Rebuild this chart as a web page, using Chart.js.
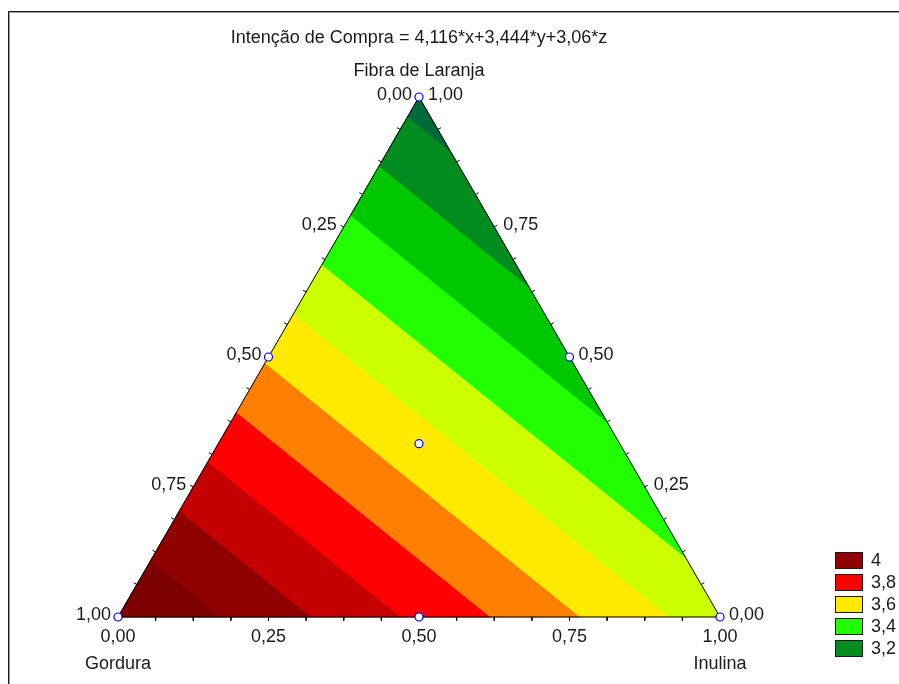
<!DOCTYPE html>
<html>
<head>
<meta charset="utf-8">
<title>Intenção de Compra</title>
<script src="https://cdn.jsdelivr.net/npm/chart.js@4.4.1/dist/chart.umd.min.js"></script>
<style>
  html, body { margin: 0; padding: 0; background: #fff; overflow: hidden; }
  canvas { display: block; }
</style>
</head>
<body>
<canvas id="c" width="899" height="684"></canvas>
<script>
// Linear mixture model: Intenção de Compra = 4,116*x + 3,444*y + 3,06*z
const coefGordura = 4.116;   // x
const coefInulina = 3.444;   // y
const coefFibra = 3.06;      // z
const titleText = 'Intenção de Compra = 4,116*x+3,444*y+3,06*z';
const componentNames = ['Gordura', 'Inulina', 'Fibra de Laranja'];

// contour levels and the fill of each band (below first level ... above last level)
const contourLevels = [3.1, 3.2, 3.3, 3.4, 3.5, 3.6, 3.7, 3.8, 3.9, 4.0];
const bandColors = ['#00693a', '#008c1e', '#00c800', '#22ff00', '#ccff00',
                    '#ffea00', '#ff8000', '#ff0000', '#c40000', '#900000', '#7d0000'];

// axis labels along each side of the triangle
const axisTicks = [0, 0.25, 0.5, 0.75, 1];
const axisTickLabels = ['0,00', '0,25', '0,50', '0,75', '1,00'];
const minorTickStep = 1 / 16;

// design points: [gordura, inulina, fibra]
const designPoints = [
  [1, 0, 0], [0, 1, 0], [0, 0, 1],
  [0.5, 0.5, 0], [0.5, 0, 0.5], [0, 0.5, 0.5],
  [1 / 3, 1 / 3, 1 / 3]
];

// legend
const legendLabels = ['4', '3,8', '3,6', '3,4', '3,2'];
const legendColors = ['#900000', '#ff0000', '#ffea00', '#22ff00', '#008c1e'];

const H = Math.sqrt(3) / 2;
function toXY(t) { return { x: t[1] + 0.5 * t[2], y: t[2] * H }; }
function response(t) { return coefGordura * t[0] + coefInulina * t[1] + coefFibra * t[2]; }

// keep the part of a ternary polygon above (or below) a response level
function clipPoly(poly, level, keepAbove) {
  const out = [];
  for (let i = 0; i < poly.length; i++) {
    const a = poly[i], b = poly[(i + 1) % poly.length];
    const va = response(a) - level, vb = response(b) - level;
    const ina = keepAbove ? va >= 0 : va <= 0;
    const inb = keepAbove ? vb >= 0 : vb <= 0;
    if (ina) out.push(a);
    if (ina !== inb) {
      const s = va / (va - vb);
      out.push(a.map((c, k) => c + s * (b[k] - c)));
    }
  }
  return out;
}

const triangle = [[1, 0, 0], [0, 1, 0], [0, 0, 1]];
const datasets = [];

bandColors.forEach((color, i) => {
  let poly = triangle;
  if (i > 0) poly = clipPoly(poly, contourLevels[i - 1], true);
  if (i < contourLevels.length && poly.length) poly = clipPoly(poly, contourLevels[i], false);
  if (poly.length < 3) return;
  const pts = poly.map(toXY);
  pts.push(pts[0]);
  datasets.push({
    data: pts, fill: 'shape', backgroundColor: color, borderColor: color,
    borderWidth: 1, pointRadius: 0, tension: 0, order: 10
  });
});

// triangle outline
const outline = triangle.map(toXY);
outline.push(outline[0]);
datasets.push({
  data: outline, fill: false, borderColor: '#000', borderWidth: 1,
  pointRadius: 0, tension: 0, order: 2
});

// small outward ticks on every side
const tickLen = 0.006;
const sides = [
  { from: [1, 0, 0], to: [0, 1, 0], n: { x: 0, y: -1 } },
  { from: [1, 0, 0], to: [0, 0, 1], n: { x: -H, y: 0.5 } },
  { from: [0, 1, 0], to: [0, 0, 1], n: { x: H, y: 0.5 } }
];
const tickPts = [];
sides.forEach(sd => {
  for (let k = 1; k < 16; k++) {
    const s = k * minorTickStep;
    const p = toXY(sd.from.map((c, j) => c + s * (sd.to[j] - c)));
    tickPts.push({ x: p.x, y: p.y });
    tickPts.push({ x: p.x + sd.n.x * tickLen, y: p.y + sd.n.y * tickLen });
    tickPts.push({ x: p.x, y: null });
  }
});
datasets.push({
  data: tickPts, fill: false, borderColor: '#000', borderWidth: 1,
  pointRadius: 0, spanGaps: false, tension: 0, order: 2
});

// design point markers
datasets.push({
  data: designPoints.map(toXY), showLine: false, fill: false,
  pointRadius: 4, pointBackgroundColor: '#fff', pointBorderColor: '#0000ff',
  pointBorderWidth: 1.2, order: 0
});

const FONT = '18px "Liberation Sans", Arial, sans-serif';
const TEXT = '#1a1a1a';

const decorations = {
  id: 'ternaryDecorations',
  beforeDraw(chart) {
    const ctx = chart.ctx;
    ctx.save();
    ctx.fillStyle = '#fff';
    ctx.fillRect(0, 0, chart.width, chart.height);
    // frame
    ctx.fillStyle = '#1a1a1a';
    ctx.fillRect(8, 11, 1, chart.height - 11);
    ctx.fillRect(8, 11, chart.width - 8, 1);
    ctx.fillStyle = '#a0a0a0';
    ctx.fillRect(9, 12, 1, chart.height - 12);
    ctx.fillRect(9, 12, chart.width - 9, 1);
    ctx.restore();
  },
  afterDraw(chart) {
    const ctx = chart.ctx;
    const xs = chart.scales.x, ys = chart.scales.y;
    const P = t => { const c = toXY(t); return [xs.getPixelForValue(c.x), ys.getPixelForValue(c.y)]; };
    ctx.save();
    ctx.font = FONT;
    ctx.fillStyle = TEXT;
    ctx.textBaseline = 'middle';

    const top = P([0, 0, 1]), bl = P([1, 0, 0]), br = P([0, 1, 0]);
    ctx.textAlign = 'center';
    ctx.fillText(titleText, top[0], 38);
    ctx.fillText(componentNames[2], top[0], 71);
    ctx.fillText(componentNames[0], bl[0], 664);
    ctx.fillText(componentNames[1], br[0], 664);

    axisTicks.forEach((v, i) => {
      const lab = axisTickLabels[i];
      // bottom side: Inulina
      const b = P([1 - v, v, 0]);
      ctx.textAlign = 'center';
      ctx.fillText(lab, b[0], b[1] + 20);
      // left side: Gordura
      const l = P([v, 0, 1 - v]);
      ctx.textAlign = 'right';
      ctx.fillText(lab, l[0] - 7, l[1] - 2);
      // right side: Fibra de Laranja
      const r = P([0, 1 - v, v]);
      ctx.textAlign = 'left';
      ctx.fillText(lab, r[0] + 9, r[1] - 2);
    });

    // legend
    legendLabels.forEach((lab, i) => {
      const y = 552 + i * 22;
      ctx.fillStyle = legendColors[i];
      ctx.fillRect(835, y, 28, 17);
      ctx.strokeStyle = '#1a1a1a';
      ctx.lineWidth = 1;
      ctx.strokeRect(835.5, y + 0.5, 27, 16);
      ctx.fillStyle = TEXT;
      ctx.textAlign = 'left';
      ctx.fillText(lab, 871, y + 9);
    });
    ctx.restore();
  }
};

new Chart(document.getElementById('c'), {
  type: 'line',
  data: { datasets },
  options: {
    responsive: false,
    animation: false,
    events: [],
    parsing: true,
    layout: { padding: 0, autoPadding: false },
    scales: {
      x: { type: 'linear', display: false, min: -118 / 602, max: -118 / 602 + 899 / 602 },
      y: { type: 'linear', display: false, min: -(684 - 617) / 600.4, max: H + 97 / 600.4 }
    },
    plugins: { legend: { display: false }, tooltip: { enabled: false }, title: { display: false } }
  },
  plugins: [decorations]
});
</script>
</body>
</html>
